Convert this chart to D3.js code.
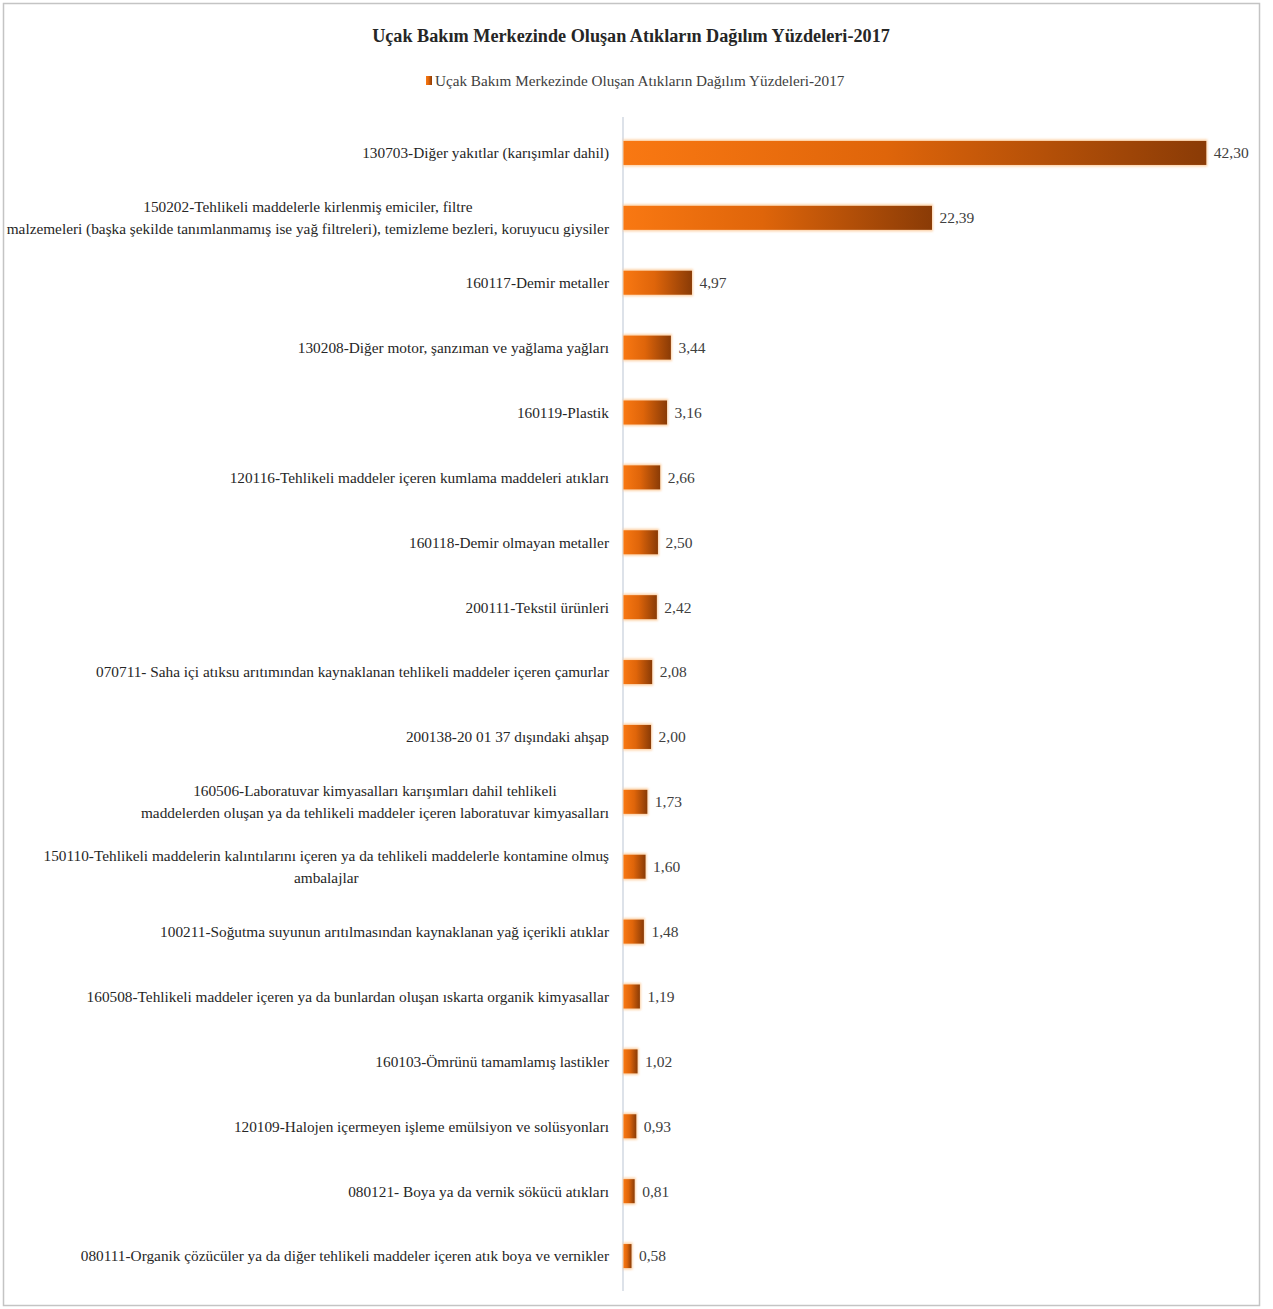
<!DOCTYPE html>
<html lang="tr">
<head>
<meta charset="utf-8">
<script src="https://cdn.jsdelivr.net/npm/d3@7"></script>
<style>
  html, body { margin: 0; padding: 0; background: #fff; }
  svg { display: block; }
  text { font-family: "Liberation Serif", "Times New Roman", serif; }
</style>
</head>
<body>
<svg id="chart" width="1273" height="1309"></svg>
<script>
// Waste categories (wrapped lines separated by "\n") and their percentages
const categories = [
  "130703-Diğer yakıtlar (karışımlar dahil)",
  "150202-Tehlikeli maddelerle kirlenmiş emiciler, filtre\nmalzemeleri (başka şekilde tanımlanmamış ise yağ filtreleri), temizleme bezleri, koruyucu giysiler",
  "160117-Demir metaller",
  "130208-Diğer motor, şanzıman ve yağlama yağları",
  "160119-Plastik",
  "120116-Tehlikeli maddeler içeren kumlama maddeleri atıkları",
  "160118-Demir olmayan metaller",
  "200111-Tekstil ürünleri",
  "070711- Saha içi atıksu arıtımından kaynaklanan tehlikeli maddeler içeren çamurlar",
  "200138-20 01 37 dışındaki ahşap",
  "160506-Laboratuvar kimyasalları karışımları dahil tehlikeli\nmaddelerden oluşan ya da tehlikeli maddeler içeren laboratuvar kimyasalları",
  "150110-Tehlikeli maddelerin kalıntılarını içeren ya da tehlikeli maddelerle kontamine olmuş\nambalajlar",
  "100211-Soğutma suyunun arıtılmasından kaynaklanan yağ içerikli atıklar",
  "160508-Tehlikeli maddeler içeren ya da bunlardan oluşan ıskarta organik kimyasallar",
  "160103-Ömrünü tamamlamış lastikler",
  "120109-Halojen içermeyen işleme emülsiyon ve solüsyonları",
  "080121- Boya ya da vernik sökücü atıkları",
  "080111-Organik çözücüler ya da diğer tehlikeli maddeler içeren atık boya ve vernikler"
];
const values = [42.30, 22.39, 4.97, 3.44, 3.16, 2.66, 2.50, 2.42, 2.08, 2.00,
                1.73, 1.60, 1.48, 1.19, 1.02, 0.93, 0.81, 0.58];
const titleText = "Uçak Bakım Merkezinde Oluşan Atıkların Dağılım Yüzdeleri-2017";
const seriesName = "Uçak Bakım Merkezinde Oluşan Atıkların Dağılım Yüzdeleri-2017";
const xMax = 45;

const rows = categories.map((c, i) => ({ label: c, value: values[i] }));
const fmt = v => d3.format(".2f")(v).replace(".", ",");

const svg = d3.select("#chart");

// outer frame
svg.append("rect")
  .attr("x", 3.5).attr("y", 3.5)
  .attr("width", 1256).attr("height", 1302)
  .attr("fill", "#fff").attr("stroke", "#c4c4c4").attr("stroke-width", 1.5);

const plot = { left: 623, right: 1243, top: 120.5, bottom: 1288.5 };

const x = d3.scaleLinear().domain([0, xMax]).range([plot.left, plot.right]);
const y = d3.scaleBand()
  .domain(rows.map((d, i) => i))
  .range([plot.top, plot.bottom])
  .paddingInner(0.63)
  .paddingOuter(0.315);

// bar gradient: bright orange to deep brown
const defs = svg.append("defs");
const grad = defs.append("linearGradient")
  .attr("id", "barGrad").attr("x1", "0").attr("y1", "0").attr("x2", "1").attr("y2", "0");
grad.append("stop").attr("offset", "0%").attr("stop-color", "#f97812");
grad.append("stop").attr("offset", "45%").attr("stop-color", "#df650a");
grad.append("stop").attr("offset", "100%").attr("stop-color", "#8a3b06");

const glow = defs.append("filter").attr("id", "glow")
  .attr("x", "-20%").attr("y", "-40%").attr("width", "140%").attr("height", "180%");
glow.append("feGaussianBlur").attr("stdDeviation", 1.2);

// title
svg.append("text")
  .attr("x", 631).attr("y", 42)
  .attr("text-anchor", "middle")
  .attr("font-size", 18.2).attr("font-weight", "bold").attr("fill", "#262626")
  .text(titleText);

// legend
const legend = svg.append("g");
legend.append("rect")
  .attr("x", 426).attr("y", 76).attr("width", 6).attr("height", 9)
  .attr("fill", "url(#barGrad)");
legend.append("text")
  .attr("x", 435).attr("y", 86)
  .attr("font-size", 15.2).attr("fill", "#404040")
  .text(seriesName);

// vertical category axis line
svg.append("line")
  .attr("x1", plot.left).attr("x2", plot.left)
  .attr("y1", 117).attr("y2", 1291)
  .attr("stroke", "#c6cfdb").attr("stroke-width", 1.2);

// bars: soft glow underneath, then gradient bar
const bars = svg.append("g");
bars.selectAll("rect.halo")
  .data(rows).join("rect")
  .attr("class", "halo")
  .attr("x", x(0))
  .attr("y", (d, i) => y(i) - 1.5)
  .attr("width", d => x(d.value) - x(0) + 1.5)
  .attr("height", y.bandwidth() + 3)
  .attr("fill", "#fcc58e").attr("opacity", 0.8)
  .attr("filter", "url(#glow)");
bars.selectAll("rect.bar")
  .data(rows).join("rect")
  .attr("class", "bar")
  .attr("x", x(0) + 0.5)
  .attr("y", (d, i) => y(i))
  .attr("width", d => x(d.value) - x(0))
  .attr("height", y.bandwidth())
  .attr("fill", "url(#barGrad)");

// value labels
svg.append("g").selectAll("text")
  .data(rows).join("text")
  .attr("x", d => x(d.value) + 8)
  .attr("y", (d, i) => y(i) + y.bandwidth() / 2)
  .attr("dy", "0.35em")
  .attr("font-size", 15.5).attr("fill", "#404040")
  .text(d => fmt(d.value));

// category labels, right aligned to the axis; wrapped lines centred on each other
const labelRight = 609;
const lineGap = 22;
const labelG = svg.append("g").attr("font-size", 15.3).attr("fill", "#262626");
rows.forEach((d, i) => {
  const lines = d.label.split("\n");
  const cy = y(i) + y.bandwidth() / 2;
  const g = labelG.append("g");
  const texts = lines.map((ln, k) => g.append("text")
    .attr("y", cy + (k - (lines.length - 1) / 2) * lineGap)
    .attr("dy", "0.35em")
    .text(ln));
  const widths = texts.map(t => t.node().getComputedTextLength());
  const maxW = d3.max(widths);
  const centre = labelRight - maxW / 2;
  texts.forEach(t => t.attr("x", centre).attr("text-anchor", "middle"));
});
</script>
</body>
</html>
